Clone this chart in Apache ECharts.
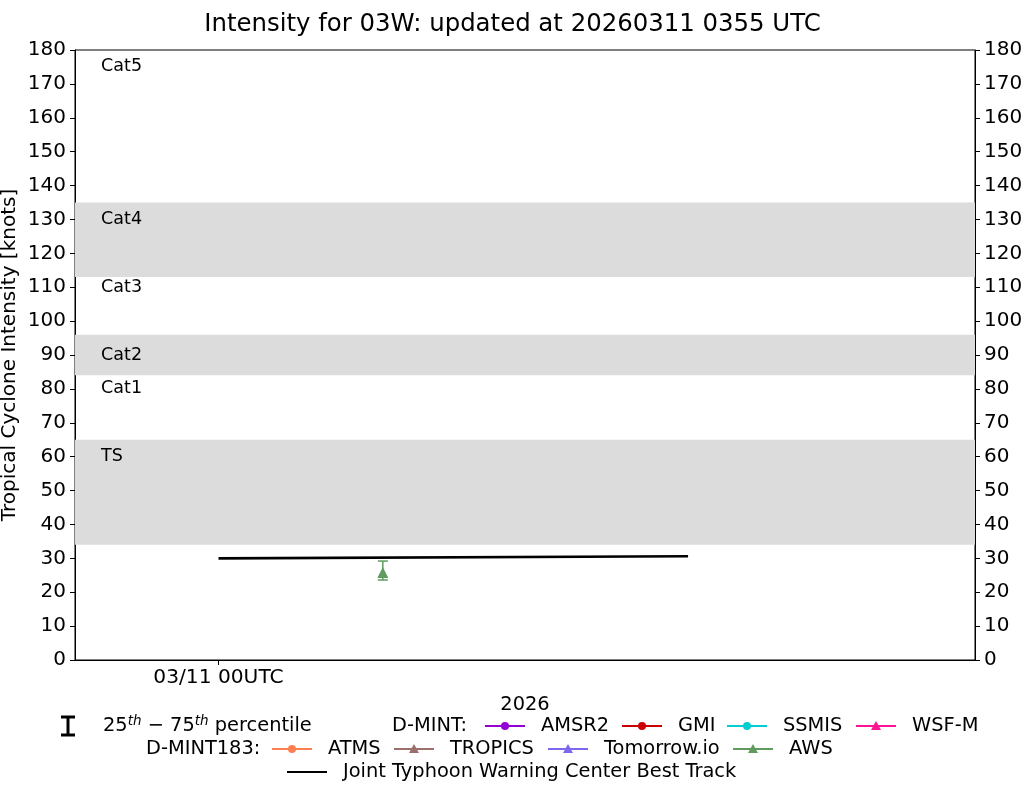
<!DOCTYPE html>
<html><head><meta charset="utf-8">
<script src="https://cdn.jsdelivr.net/npm/echarts@6/dist/echarts.min.js"></script>
<style>html,body{margin:0;padding:0;background:#fff}#c{width:1025px;height:785px}</style>
</head><body><div id="c"></div><script>
// ---- data ----
const titleText = 'Intensity for 03W: updated at 20260311 0355 UTC';
const yAxisName = 'Tropical Cyclone Intensity [knots]';
const yearLabel = '2026';
const xTickHours = [0];                 // hours since 03/11 00UTC
const xTickLabels = ['03/11 00UTC'];
const bandRanges = [[34, 65], [84, 96], [113, 135]];
const categoryNames = ['Cat5', 'Cat4', 'Cat3', 'Cat2', 'Cat1', 'TS'];
const categoryKnots = [175, 130, 110, 90, 80, 60];
const categoryLabelHour = -4.5;
const bestTrackHours = [0, 18];
const bestTrackKnots = [30, 30.6];
const awsHours = [6.3];
const awsMedian = [25.8];
const awsP25 = [23.6];
const awsP75 = [29.2];
const legendRow1 = ['AMSR2', 'GMI', 'SSMIS', 'WSF-M'];
const legendRow2 = ['ATMS', 'TROPICS', 'Tomorrow.io', 'AWS'];
const bestTrackName = 'Joint Typhoon Warning Center Best Track';

// ---- styles ----
const FONT = '"DejaVu Sans", sans-serif';
const COLORS = {
  'AMSR2': '#9400d3', 'GMI': '#cc0000', 'SSMIS': '#00ced1', 'WSF-M': '#ff1493',
  'ATMS': '#ff7f50', 'TROPICS': '#9d6f6c', 'Tomorrow.io': '#7b68ee', 'AWS': '#5f9b5f'
};
const SYMBOL = {
  'AMSR2': 'circle', 'GMI': 'circle', 'SSMIS': 'circle', 'WSF-M': 'triangle',
  'ATMS': 'circle', 'TROPICS': 'triangle', 'Tomorrow.io': 'triangle', 'AWS': 'triangle'
};

const chart = echarts.init(document.getElementById('c'), null, {renderer: 'canvas'});

// legend graphics
const legendFontSize = 19.4;
const graphics = [];
function legendText(x, y, text) {
  graphics.push({type: 'text', x: x, y: y, style: {text: text, fontSize: legendFontSize, fontFamily: FONT, fill: '#000', verticalAlign: 'middle', align: 'left'}});
}
function legendItem(x, y, name, color, symbol) {
  graphics.push({type: 'line', shape: {x1: x, y1: y, x2: x + 40, y2: y}, style: {stroke: color, lineWidth: 2}});
  if (symbol === 'circle') {
    graphics.push({type: 'circle', shape: {cx: x + 20, cy: y, r: 4}, style: {fill: color}});
  } else if (symbol === 'triangle') {
    graphics.push({type: 'polygon', shape: {points: [[x + 20, y - 5], [x + 15, y + 4], [x + 25, y + 4]]}, style: {fill: color}});
  }
  legendText(x + 56, y, name);
}
// error-bar icon
graphics.push({type: 'polyline', shape: {points: [[61, 717], [75, 717]]}, style: {stroke: '#000', lineWidth: 3}});
graphics.push({type: 'polyline', shape: {points: [[68, 717], [68, 735]]}, style: {stroke: '#000', lineWidth: 3}});
graphics.push({type: 'polyline', shape: {points: [[61, 735], [75, 735]]}, style: {stroke: '#000', lineWidth: 3}});
graphics.push({type: 'text', x: 103, y: 726, style: {
  text: '25{s|th} \u2212 75{s|th} percentile', fontSize: legendFontSize, fontFamily: FONT, fill: '#000',
  verticalAlign: 'middle', align: 'left',
  rich: {s: {fontSize: 13.5, fontStyle: 'italic', fontFamily: FONT, verticalAlign: 'top', lineHeight: 24}}
}});
legendText(392, 726, 'D-MINT:');
const row1X = [485, 622, 727, 856];
legendRow1.forEach((n, i) => legendItem(row1X[i], 726, n, COLORS[n], SYMBOL[n]));
legendText(146, 749, 'D-MINT183:');
const row2X = [272, 394, 548, 733];
legendRow2.forEach((n, i) => legendItem(row2X[i], 749, n, COLORS[n], SYMBOL[n]));
legendItem(287, 772, bestTrackName, '#000', 'none');

const bandData = bandRanges.map(r => [{yAxis: r[0]}, {yAxis: r[1]}]);

const option = {
  animation: false,
  backgroundColor: '#fff',
  title: {text: titleText, left: 'center', top: 8, textStyle: {fontFamily: FONT, fontSize: 24.4, fontWeight: 'normal', color: '#000'}},
  grid: {left: 75, right: 50, top: 50, bottom: 125, show: true, borderColor: '#000', borderWidth: 1,
    backgroundColor: 'transparent', containLabel: false, outerBoundsMode: 'none'},
  xAxis: {
    type: 'value', min: -5.5, max: 29,
    name: yearLabel, nameLocation: 'middle', nameGap: 35, nameMoveOverlap: false,
    nameTextStyle: {fontFamily: FONT, fontSize: 19.4, color: '#000'},
    axisLine: {show: true, onZero: false, lineStyle: {color: '#000', width: 1}},
    axisTick: {show: true, customValues: xTickHours, length: 5, lineStyle: {color: '#000'}},
    axisLabel: {customValues: xTickHours, formatter: v => { const i = xTickHours.indexOf(v); return i >= 0 ? xTickLabels[i] : ''; },
      fontFamily: FONT, fontSize: 20.2, color: '#000', margin: 8},
    splitLine: {show: false}
  },
  yAxis: [
    {type: 'value', min: 0, max: 180, interval: 10, position: 'left',
      name: yAxisName, nameLocation: 'middle', nameGap: 55, nameMoveOverlap: false,
      nameTextStyle: {fontFamily: FONT, fontSize: 20, color: '#000'},
      axisLine: {show: true, onZero: false, lineStyle: {color: '#000'}},
      axisTick: {show: true, length: 5, lineStyle: {color: '#000'}},
      axisLabel: {fontFamily: FONT, fontSize: 20, color: '#000', margin: 9},
      splitLine: {show: false}},
    {type: 'value', min: 0, max: 180, interval: 10, position: 'right',
      axisLine: {show: true, onZero: false, lineStyle: {color: '#000'}},
      axisTick: {show: true, length: 5, lineStyle: {color: '#000'}},
      axisLabel: {fontFamily: FONT, fontSize: 20, color: '#000', margin: 9},
      splitLine: {show: false}}
  ],
  graphic: graphics,
  series: [
    {type: 'line', name: 'bands', data: [], silent: true,
      markArea: {silent: true, itemStyle: {color: '#dcdcdc'}, data: bandData}},
    {type: 'scatter', name: 'categories', symbolSize: 0, silent: true, z: 3,
      itemStyle: {opacity: 1},
      data: categoryNames.map((n, i) => ({name: n, value: [categoryLabelHour, categoryKnots[i]]})),
      label: {show: true, position: 'right', distance: 0, formatter: p => p.name,
        fontFamily: FONT, fontSize: 17.5, color: '#000', opacity: 1}},
    {type: 'line', name: bestTrackName, showSymbol: false, z: 4,
      data: bestTrackHours.map((h, i) => [h, bestTrackKnots[i]]),
      lineStyle: {color: '#000', width: 2.6}},
    {type: 'custom', name: 'AWS range', z: 5,
      data: awsHours.map((h, i) => [h, awsP25[i], awsP75[i]]),
      renderItem: (params, api) => {
        const lo = api.coord([api.value(0), api.value(1)]);
        const hi = api.coord([api.value(0), api.value(2)]);
        const w = 5;
        const st = {stroke: COLORS['AWS'], lineWidth: 1.5};
        return {type: 'group', children: [
          {type: 'line', shape: {x1: lo[0], y1: lo[1], x2: hi[0], y2: hi[1]}, style: st},
          {type: 'line', shape: {x1: lo[0] - w, y1: lo[1], x2: lo[0] + w, y2: lo[1]}, style: st},
          {type: 'line', shape: {x1: hi[0] - w, y1: hi[1], x2: hi[0] + w, y2: hi[1]}, style: st}
        ]};
      }},
    {type: 'scatter', name: 'AWS', symbol: 'triangle', symbolSize: [11, 11], z: 6,
      itemStyle: {color: COLORS['AWS'], opacity: 1},
      data: awsHours.map((h, i) => [h, awsMedian[i]])}
  ]
};
chart.setOption(option);
</script></body></html>
